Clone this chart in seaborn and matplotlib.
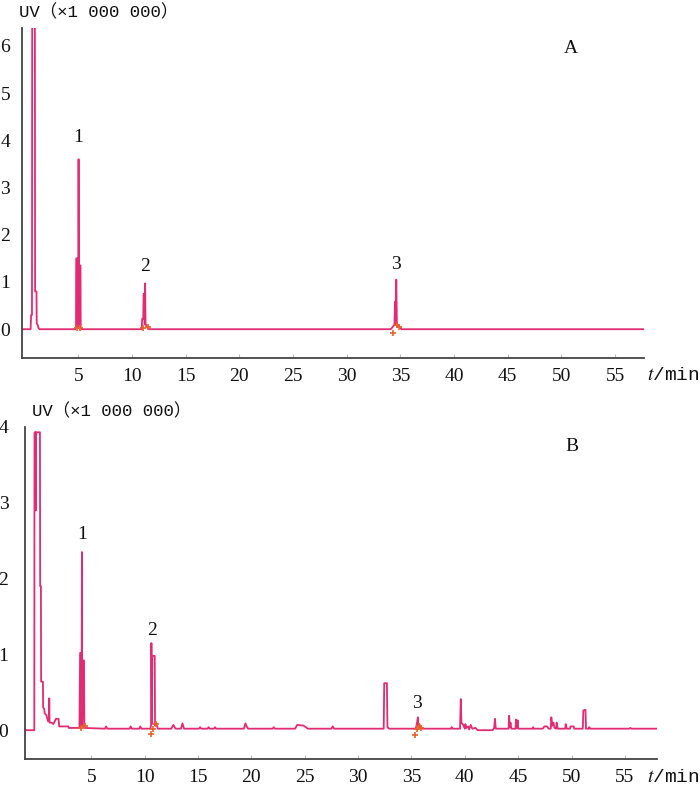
import matplotlib
matplotlib.use('Agg')
import matplotlib.pyplot as plt
import pandas as pd
import seaborn as sns

# Chromatogram A: polyline vertices, retention time (min) and UV signal (x1 000 000)
a_time = [-0.25, 0.55, 0.6, 0.68, 0.7, 0.95, 0.97, 1.1, 1.12, 1.2, 1.3, 1.4,
          4.7, 4.78, 4.8, 4.9, 4.95, 5.0, 5.02, 5.05, 5.13, 5.2, 5.22, 5.3,
          10.9, 10.95, 11.05, 11.08, 11.15, 11.18, 11.22, 11.26, 11.35, 11.5, 11.6,
          34.1, 34.3, 34.45, 34.5, 34.55, 34.62, 34.68, 34.8, 34.95, 35.1, 57.7]
a_uv = [0, 0, 0.3, 0.3, 6.6, 6.6, 0.8, 0.8, 0.12, 0.1, 0.02, 0,
        0, 0.03, 1.5, 1.5, 0.05, 0.05, 3.6, 0.1, 1.35, 1.35, 0.03, 0,
        0, 0.22, 0.22, 0.75, 0.75, 0.1, 0.97, 0.1, 0.08, 0.02, 0,
        0, 0.05, 0.1, 0.58, 0.1, 1.05, 0.1, 0.08, 0.04, 0, 0]

# Chromatogram B
b_time = [-1.2, -0.33, -0.31, -0.2, -0.18, -0.16, 0.2, 0.22, 0.29, 0.31, 0.48, 0.5,
          0.6, 0.65, 0.8, 0.95, 1.05, 1.07, 1.1, 1.3, 1.45, 1.7, 1.94, 2.0, 2.85, 2.9, 3.9,
          3.96, 4.05, 4.08, 4.1, 4.13, 4.16, 4.24, 4.33, 4.36,
          6.3, 6.4, 6.5, 8.6, 8.7, 8.8, 9.5, 9.6, 9.7,
          10.55, 10.62, 10.64, 10.68, 10.72, 10.95, 10.98, 11.1, 11.25,
          12.5, 12.7, 12.9, 13.4, 13.55, 13.7, 15.1, 15.2, 15.3, 15.9, 16.0, 16.1,
          16.5, 16.6, 16.7, 19.3, 19.45, 19.6, 19.7, 22.0, 22.1, 22.2,
          24.1, 24.3, 24.9, 25.1, 25.3, 27.5, 27.63, 27.75,
          32.4, 32.45, 32.7, 32.75, 32.9,
          35.4, 35.5, 35.6, 35.65, 35.75, 35.9,
          38.7, 38.77, 38.85, 39.55, 39.62, 39.68, 39.85, 40.0, 40.05, 40.15, 40.3,
          40.4, 40.55, 40.7, 41.0, 41.2, 42.6, 42.75, 42.82, 42.9,
          44.1, 44.15, 44.2, 44.28, 44.35, 44.75, 44.8, 44.85, 44.95, 45.0,
          46.35, 46.4, 46.45, 47.3, 47.45, 47.7, 47.85,
          48.05, 48.1, 48.2, 48.3, 48.4, 48.55, 48.6, 48.7,
          49.4, 49.45, 49.55, 49.85, 49.9, 50.2, 50.25,
          51.05, 51.1, 51.3, 51.35, 51.6, 51.66, 51.75, 55.4, 55.5, 55.6, 58.0]
b_uv = [0, 0, 3.93, 3.93, 2.9, 3.93, 3.93, 1.9, 1.9, 0.64, 0.64, 0.3,
        0.28, 0.22, 0.2, 0.12, 0.12, 0.42, 0.1, 0.1, 0.08, 0.15, 0.15, 0.05, 0.05, 0.03, 0.03,
        1.02, 1.02, 0.05, 0.05, 2.35, 0.05, 0.92, 0.92, 0.03,
        0.02, 0.05, 0.02, 0.02, 0.05, 0.02, 0.02, 0.05, 0.02,
        0.02, 0.08, 1.15, 0.08, 0.98, 0.98, 0.06, 0.08, 0.02,
        0.02, 0.07, 0.02, 0.02, 0.09, 0.02, 0.02, 0.04, 0.02, 0.02, 0.04, 0.02,
        0.02, 0.04, 0.02, 0.02, 0.09, 0.04, 0.02, 0.02, 0.04, 0.02,
        0.02, 0.07, 0.06, 0.04, 0.02, 0.02, 0.05, 0.02,
        0.02, 0.62, 0.62, 0.04, 0.02,
        0.02, 0.08, 0.17, 0.05, 0.08, 0.02,
        0.02, 0.04, 0.02, 0.02, 0.41, 0.1, 0.07, 0.02, 0.08, 0.03, 0.05,
        0.01, 0.07, 0.02, 0.03, 0.0, 0.0, 0.03, 0.15, 0.02,
        0.02, 0.19, 0.04, 0.1, 0.02, 0.02, 0.14, 0.03, 0.13, 0.02,
        0.02, 0.04, 0.02, 0.02, 0.05, 0.05, 0.02,
        0.02, 0.17, 0.06, 0.1, 0.03, 0.02, 0.1, 0.02,
        0.02, 0.08, 0.02, 0.02, 0.05, 0.05, 0.02,
        0.02, 0.26, 0.27, 0.02, 0.02, 0.04, 0.02, 0.02, 0.03, 0.02, 0.02]

# integration markers near peak bases
a_mark_t = [4.85, 5.2, 11.0, 11.45, 34.3, 34.7, 34.9]
a_mark_v = [0.02, 0.03, 0.02, 0.05, -0.08, 0.08, 0.04]
b_mark_t = [4.0, 4.4, 10.6, 10.75, 11.05, 35.35, 35.5, 35.7, 35.85]
b_mark_v = [0.03, 0.05, -0.05, 0.02, 0.08, -0.06, 0.02, 0.06, 0.03]

# peak numbers
a_peak_t = [4.95, 11.22, 34.6]
a_peak_v = [4.07, 1.32, 1.36]
b_peak_t = [4.13, 10.74, 35.5]
b_peak_v = [2.58, 1.32, 0.35]
peak_names = ['1', '2', '3']

line_color = '#E32B74'
mark_color = '#E8602A'

sns.set_theme(style='white')
plt.rcParams['font.family'] = ['Liberation Serif', 'Noto Sans CJK SC', 'DejaVu Sans']
plt.rcParams['mathtext.fontset'] = 'stix'

fig = plt.figure(figsize=(7, 7.88), dpi=100)
ax_a = fig.add_axes([22 / 700, 1 - 358 / 788, 622 / 700, 330 / 788])
ax_b = fig.add_axes([25 / 700, 1 - 759 / 788, 632 / 700, 332 / 788])

panels = [
    (ax_a, a_time, a_uv, a_mark_t, a_mark_v, a_peak_t, a_peak_v, 'A', (50.9, 5.95),
     (-0.25, 57.7), (-0.61, 6.38), range(0, 7), 8.5),
    (ax_b, b_time, b_uv, b_mark_t, b_mark_v, b_peak_t, b_peak_v, 'B', (50.0, 3.74),
     (-1.2, 58.0), (-0.38, 4.0), range(0, 5), 12),
]

for ax, t, v, mt, mv, pt, pv, letter, lpos, xl, yl, yt, ypad in panels:
    df = pd.DataFrame({'t': t, 'uv': v})
    sns.lineplot(data=df, x='t', y='uv', sort=False, estimator=None, ax=ax,
                 color=line_color, linewidth=1.3)
    dm = pd.DataFrame({'t': mt, 'uv': mv})
    sns.scatterplot(data=dm, x='t', y='uv', ax=ax, marker='+', color=mark_color,
                    s=25, linewidth=1.2, zorder=3)
    for name, x, y in zip(peak_names, pt, pv):
        ax.text(x, y, name, ha='center', va='center', fontsize=14, color='#111111')
    ax.text(lpos[0], lpos[1], letter, ha='center', va='center', fontsize=14, color='#111111')

    ax.set_xlim(*xl)
    ax.set_ylim(*yl)
    ax.set_xticks(range(5, 60, 5))
    ax.set_yticks(list(yt))
    ax.set_xlabel('')
    ax.set_ylabel('')
    ax.grid(False)
    sns.despine(ax=ax)
    for s in ['left', 'bottom']:
        ax.spines[s].set_color('#444444')
        ax.spines[s].set_linewidth(1.3)
    ax.tick_params(axis='x', bottom=True, direction='in', length=3, width=0.8,
                   color='#bbbbbb', pad=7, labelsize=14, labelcolor='#111111')
    ax.tick_params(axis='y', left=False, length=0, pad=ypad, labelsize=14,
                   labelcolor='#111111')

# axis titles
uv_font = ['Liberation Mono', 'Noto Sans CJK SC']
fig.text(19 / 700, 1 - 12 / 788, 'UV（×1 000 000）', ha='left', va='center',
         fontsize=12.5, family=uv_font, color='#111111')
fig.text(32 / 700, 1 - 411 / 788, 'UV（×1 000 000）', ha='left', va='center',
         fontsize=12.5, family=uv_font, color='#111111')
fig.text(647 / 700, 1 - 376 / 788, '$t$/min', ha='left', va='center',
         fontsize=14, family='Liberation Mono', color='#111111')
fig.text(647 / 700, 1 - 777 / 788, '$t$/min', ha='left', va='center',
         fontsize=14, family='Liberation Mono', color='#111111')

fig.savefig('out.png', dpi=100)
